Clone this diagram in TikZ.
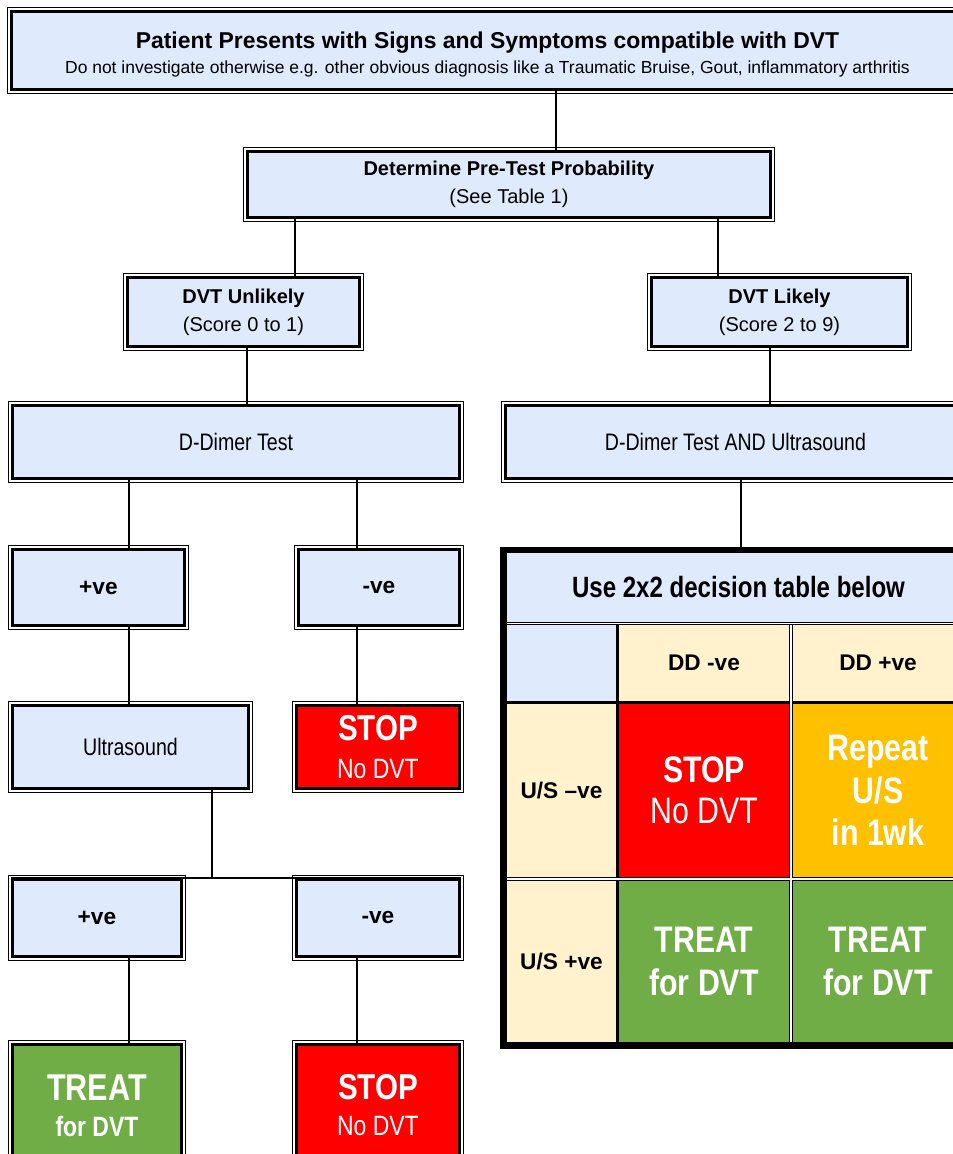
\documentclass[tikz,border=0pt]{standalone}
\usepackage{fontspec}
\setmainfont{Liberation Sans}
\newfontfamily\narrowsf{Liberation Sans}[FakeStretch=0.82]

\definecolor{boxblue}{HTML}{DFEAFC}
\definecolor{cream}{HTML}{FFF2CC}
\definecolor{stopred}{HTML}{FF0000}
\definecolor{treatgreen}{HTML}{70AD47}
\definecolor{repeatgold}{HTML}{FFC000}
\newcommand{\fsz}[2]{\fontsize{#1}{#2}\selectfont}

\tikzset{
  flowbox/.style={rectangle, draw, line width=2.2pt, fill=boxblue,
                  inner sep=0pt, anchor=north west, align=center},
  stopbox/.style={flowbox, fill=stopred, text=white},
  treatbox/.style={flowbox, fill=treatgreen, text=white},
  cell/.style={rectangle, inner sep=0pt, outer sep=0pt,
               anchor=north west, align=center},
  link/.style={line width=1.2pt},
  rim/.style={line width=0.6pt}
}

\begin{document}
\begin{tikzpicture}[x=0.75pt, y=-0.75pt]
\useasboundingbox (0,0) rectangle (953,1154);

% x positions of the vertical links
\coordinate (xa) at (556,0);
\coordinate (xb) at (295,0);
\coordinate (xc) at (718,0);
\coordinate (xd) at (247,0);
\coordinate (xe) at (770,0);
\coordinate (xf) at (129,0);
\coordinate (xg) at (357,0);
\coordinate (xh) at (741,0);
\coordinate (xk) at (212,0);

\node[flowbox, minimum width=714pt, minimum height=58.5pt,
      font=\fsz{17.2}{19}]
(patient) at (10,10) {\rule{0pt}{19pt}\textbf{Patient Presents with Signs and Symptoms compatible with DVT}\\
  {\fsz{13.1}{19}Do not investigate otherwise e.g. other obvious diagnosis like a Traumatic Bruise, Gout, inflammatory arthritis}};

\node[flowbox, minimum width=392.25pt, minimum height=49.5pt,
      font=\fsz{15}{21}]
(pretest) at (246,150) {\textbf{Determine Pre-Test Probability}\\(See Table 1)};

\node[flowbox, minimum width=174pt, minimum height=51.75pt,
      font=\fsz{15}{21}]
(unlikely) at (126,276) {\textbf{DVT Unlikely}\\(Score 0 to 1)};

\node[flowbox, minimum width=192pt, minimum height=51.75pt,
      font=\fsz{15}{21}]
(likely) at (650,276) {\textbf{DVT Likely}\\(Score 2 to 9)};

\node[flowbox, minimum width=335.25pt, minimum height=54.75pt,
      font=\narrowsf\fsz{17.9}{20}]
(ddimer) at (11,404) {D-Dimer Test};

\node[flowbox, minimum width=345pt, minimum height=54.75pt,
      font=\narrowsf\fsz{17.9}{20}]
(ddus) at (504,404) {D-Dimer Test AND Ultrasound};

\node[flowbox, minimum width=129pt, minimum height=57pt,
      font=\bfseries\fsz{17}{20}]
(pos1) at (11,548) {+ve};

\node[flowbox, minimum width=120.75pt, minimum height=57pt,
      font=\bfseries\fsz{17}{20}]
(neg1) at (297,548) {-ve};

\node[flowbox, minimum width=177pt, minimum height=62.25pt,
      font=\narrowsf\fsz{17.9}{20}]
(us) at (11,704) {Ultrasound};

\node[stopbox, minimum width=122.25pt, minimum height=62.25pt,
      font=\narrowsf\fsz{21}{28}]
(stop1) at (295,704) {{\fsz{27}{28}\bfseries STOP}\\No DVT};

\node[flowbox, minimum width=126.75pt, minimum height=57.75pt,
      font=\bfseries\fsz{17}{20}]
(pos2) at (11,878) {+ve};

\node[flowbox, minimum width=122.25pt, minimum height=57.75pt,
      font=\bfseries\fsz{17}{20}]
(neg2) at (295,878) {-ve};

\node[treatbox, minimum width=126.75pt, minimum height=91.5pt,
      font=\narrowsf\bfseries\fsz{21}{27}]
(treat2) at (11,1043) {{\fsz{28}{27}TREAT}\\for DVT};

\node[stopbox, minimum width=122.25pt, minimum height=91.5pt,
      font=\narrowsf\fsz{21}{27}]
(stop2) at (295,1043) {{\fsz{27}{27}\bfseries STOP}\\No DVT};

% thin outer rims
\foreach \n in {patient,pretest,unlikely,likely,ddimer,ddus,pos1,neg1,
                us,stop1,pos2,neg2,treat2,stop2}
  \draw[rim] ([shift={(-1.6pt,1.6pt)}]\n.north west)
        rectangle ([shift={(1.6pt,-1.6pt)}]\n.south east);

% decision table
\node[rectangle, fill=black, inner sep=0pt, anchor=north west,
      minimum width=352.5pt, minimum height=376.5pt]
(dtable) at (500,547) {};

\node[cell, fill=boxblue, minimum width=347.25pt, minimum height=51.75pt,
      font=\narrowsf\bfseries\fsz{22}{24}]
(hdr) at (507,553) {Use 2x2 decision table below};

\node[cell, fill=boxblue, minimum width=81.75pt, minimum height=57pt]
(corner) at (507,625) {};
\node[cell, fill=cream, minimum width=127.5pt, minimum height=57pt,
      font=\bfseries\fsz{17}{20}]
(ddneg) at (619,625) {DD -ve};
\node[cell, fill=cream, minimum width=127.5pt, minimum height=57pt,
      font=\bfseries\fsz{17}{20}]
(ddpos) at (793,625) {DD +ve};

\node[cell, fill=cream, minimum width=81.75pt, minimum height=129.75pt,
      font=\bfseries\fsz{17}{20}]
(usneg) at (507,704) {U/S –ve};
\node[cell, fill=stopred, text=white, minimum width=127.5pt,
      minimum height=129.75pt, font=\narrowsf\fsz{27.7}{31}]
(cstop) at (619,704) {{\bfseries STOP}\\No DVT};
\node[cell, fill=repeatgold, text=white, minimum width=127.5pt,
      minimum height=129.75pt, font=\narrowsf\bfseries\fsz{27.7}{32}]
(crepeat) at (793,704) {Repeat\\U/S\\in 1wk};

\node[cell, fill=cream, minimum width=81.75pt, minimum height=120.75pt,
      font=\bfseries\fsz{17}{20}]
(uspos) at (507,881) {U/S +ve};
\node[cell, fill=treatgreen, text=white, minimum width=127.5pt,
      minimum height=120.75pt, font=\narrowsf\bfseries\fsz{27.7}{32}]
(ctreat1) at (619,881) {TREAT\\for DVT};
\node[cell, fill=treatgreen, text=white, minimum width=127.5pt,
      minimum height=120.75pt, font=\narrowsf\bfseries\fsz{27.7}{32}]
(ctreat2) at (793,881) {TREAT\\for DVT};

% white middle of the double rules
\draw[white, line width=0.8pt] ([yshift=-1.1pt]hdr.south west) -- ([yshift=-1.1pt]hdr.south east);
\draw[white, line width=0.8pt] ([yshift=-1.5pt]usneg.south west) -- ([yshift=-1.5pt]crepeat.south east);
\draw[white, line width=0.8pt] ([xshift=1.5pt]ddneg.north east) -- ([xshift=1.5pt]ctreat1.south east);

% links
\draw[link] (patient.south -| xa) -- (pretest.north -| xa);
\draw[link] (pretest.south -| xb) -- (unlikely.north -| xb);
\draw[link] (pretest.south -| xc) -- (likely.north -| xc);
\draw[link] (unlikely.south -| xd) -- (ddimer.north -| xd);
\draw[link] (likely.south -| xe) -- (ddus.north -| xe);
\draw[link] (ddimer.south -| xf) -- (pos1.north -| xf);
\draw[link] (ddimer.south -| xg) -- (neg1.north -| xg);
\draw[link] (ddus.south -| xh) -- (dtable.north -| xh);
\draw[link] (pos1.south -| xf) -- (us.north -| xf);
\draw[link] (neg1.south -| xg) -- (stop1.north -| xg);
\draw[link] (us.south -| xk) -- (pos2.north -| xk);
\draw[link] (pos2.north west) -- (neg2.north east);
\draw[link] (pos2.south -| xf) -- (treat2.north -| xf);
\draw[link] (neg2.south -| xg) -- (stop2.north -| xg);

\end{tikzpicture}
\end{document}
